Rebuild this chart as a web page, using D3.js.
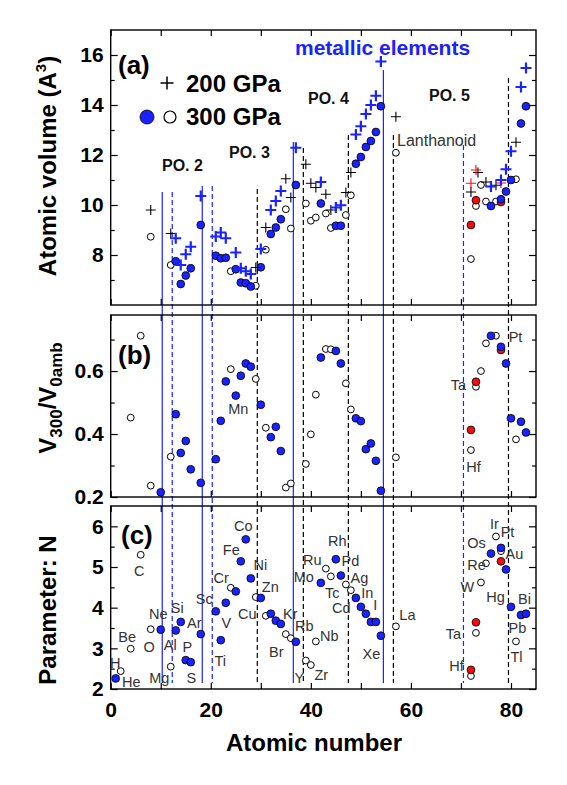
<!DOCTYPE html>
<html>
<head>
<meta charset="utf-8">
<script src="https://cdn.jsdelivr.net/npm/d3@7"></script>
<style>
  body { margin: 0; background: #fff; }
  text { font-family: Arial, "Liberation Sans", sans-serif; }
</style>
</head>
<body>
<svg id="chart" width="567" height="785"></svg>
<script>
// values: [atomic number, value]

// (a) atomic volume
const volPlusBlack = [[8,9.8],[12,8.86],[29,7.5],[31,9.1],[35,11.05],[36,10.3],[39,11.63],[40,10.87],
  [41,10.7],[43,10.43],[44,9.8],[47,10.5],[48,11.3],[57,13.53],[72,10.52],[73.4,11.3],[75,10.92],[77,10.79],[81,12.51]];
const volPlusRed = [[72,10.87],[73,11.4],[78,10.88]];
const volPlusBlue = [[13,8.67],[14,7.6],[15,8.03],[16,8.33],[18,10.36],[21,8.74],[22,8.9],[23,8.67],
  [25,8.1],[26,7.47],[27,7.35],[28,7.24],[30,8.24],[32,9.8],[33,10.16],[34,10.56],[37,12.29],[42,10.92],
  [45,9.9],[46,9.99],[49,12.82],[50,13.15],[51,13.64],[52,14.0],[53,14.37],[54,15.74],[76,10.74],
  [78,11.0],[79,11.43],[80,12.15],[82,14.72],[83,15.48]];
const volOpen = [[8,8.73],[12,7.6],[24,7.35],[29,6.77],[31,8.21],[35,9.83],[36,9.06],[39,10.06],[40,9.37],
  [41,9.5],[43,9.66],[44,9.08],[47,9.6],[48,10.39],[57,12.09],[72,7.84],[73,9.96],[74,10.8],[75,10.14],
  [77,10.14],[81,11.03]];
const volRed = [[72,9.2],[73,10.19],[78,10.12]];
const volFilled = [[13,7.75],[14,6.84],[15,7.18],[16,7.47],[18,9.2],[21,7.97],[22,7.87],[23,7.89],
  [25,7.43],[26,6.9],[27,6.87],[28,6.74],[30,7.51],[32,8.84],[33,9.1],[34,9.43],[37,10.8],[42,10.06],
  [45,9.17],[46,9.17],[49,11.65],[50,11.92],[51,12.32],[52,12.56],[53,12.92],[54,13.95],[76,9.96],
  [78,10.23],[79,10.54],[80,11.0],[82,13.26],[83,13.95]];

// (b) V300 / V0amb
const ratioOpen = [[4,0.452],[6,0.712],[8,0.236],[12,0.328],[24,0.606],[29,0.575],[31,0.42],[35,0.23],
  [36,0.243],[39,0.305],[40,0.399],[41,0.525],[43,0.67],[44,0.669],[47,0.561],[48,0.478],[57,0.326],
  [72,0.349],[73,0.55],[74,0.6],[75,0.688],[77,0.712],[81,0.383]];
const ratioRed = [[72,0.413],[73,0.566],[78,0.667]];
const ratioFilled = [[10,0.215],[13,0.463],[14,0.34],[15,0.378],[16,0.288],[18,0.245],[21,0.32],[22,0.442],
  [23,0.567],[25,0.522],[26,0.585],[27,0.624],[28,0.614],[30,0.493],[32,0.39],[33,0.423],[34,0.346],
  [42,0.643],[45,0.664],[46,0.624],[49,0.45],[50,0.441],[51,0.352],[52,0.37],[53,0.315],[54,0.22],
  [76,0.712],[78,0.677],[79,0.624],[80,0.45],[82,0.439],[83,0.405]];

// (c) parameter N
const nOpen = [[2,2.44],[4,2.99],[6,5.3],[8,3.47],[12,2.55],[24,4.49],[29,4.26],[31,3.8],[35,3.35],
  [36,3.25],[39,2.7],[40,2.59],[41,3.17],[43,4.96],[44,4.77],[47,4.57],[48,4.43],[57,3.54],[72,2.32],
  [73,3.38],[74,4.62],[75,5.09],[77,5.75],[78,5.39],[81,3.17]];
const nRed = [[72,2.47],[73,3.64],[78,5.14]];
const nFilled = [[1,2.26],[10,3.46],[13,3.44],[14,3.65],[15,2.71],[16,2.66],[18,3.35],[21,3.91],[22,3.2],
  [23,4.12],[25,4.4],[26,5.14],[27,5.68],[28,4.72],[30,4.24],[32,3.85],[33,3.68],[34,3.6],[37,3.16],
  [42,4.61],[45,5.19],[46,4.79],[49,4.24],[50,4.02],[51,3.85],[52,3.65],[53,3.65],[54,3.31],[76,5.33],
  [78,5.47],[79,4.94],[80,4.02],[82,3.82],[83,3.85]];

// element names written next to the points: [name, Z, value]
const ratioNames = [["Mn",25.5,0.479],["Pt",80.9,0.708],["Ta",69.5,0.556],["Hf",72.5,0.295]];
const nNames = [["H",0.9,2.64],["He",4.1,2.17],["Be",3.3,3.28],["C",5.7,4.89],["O",7.7,3.04],["Ne",9.5,3.85],
  ["Mg",9.7,2.27],["Si",13.3,4.0],["Al",11.9,3.09],["P",15.3,3.04],["S",16.1,2.27],["Ar",16.7,3.63],
  ["Sc",18.7,4.22],["V",23.1,3.63],["Ti",21.9,2.69],["Cr",22.1,4.74],["Fe",24.1,5.43],["Co",26.5,6.02],
  ["Cu",27.3,3.85],["Ni",29.9,5.06],["Zn",31.9,4.52],["Kr",35.9,3.85],["Rb",38.7,3.56],["Br",33.1,2.91],
  ["Y",37.7,2.27],["Zr",42.1,2.35],["Nb",43.7,3.31],["Mo",38.6,4.76],["Ru",40.3,5.18],["Rh",45.3,5.65],
  ["Pd",47.9,5.14],["Tc",44.3,4.37],["Ag",49.7,4.74],["Cd",46.1,4.0],["In",51.3,4.37],["I",52.9,4.07],
  ["Xe",52.1,2.86],["La",59.3,3.83],["Ir",76.7,6.05],["Pt",79.3,5.85],["Os",73.1,5.6],["Au",80.7,5.33],
  ["Re",73.1,5.04],["W",71.3,4.52],["Hg",76.9,4.27],["Bi",82.7,4.22],["Pb",81.3,3.51],["Ta",68.5,3.36],
  ["Tl",81.1,2.79],["Hf",69.1,2.57]];

// vertical separators: Z position and top end (in atomic volume units)
const blueSolidZ = [10.3, 18.3, 36.5, 54.5];
const blueSolidTop = [10.52, 10.76, 12.52, 15.4];
const blueDashZ = [12.3, 20.3, 70.5];
const blueDashTop = [10.52, 10.76, 12.4];
const blackDashZ = [29.3, 38.5, 47.5, 56.5, 79.5];
const blackDashTop = [10.64, 12.28, 12.8, 12.8, 15.08];

const xTicks = [0, 10, 20, 30, 40, 50, 60, 70, 80];
const xLabels = [0, 20, 40, 60, 80];

const BLUE = "#1a22ff";
const RED = "#f01010";

const svg = d3.select("#chart");
svg.append("rect").attr("width", 567).attr("height", 785).attr("fill", "#fff");

const x = d3.scaleLinear().domain([0, 85]).range([110.7, 536]);
const yA = d3.scaleLinear().domain([6, 17]).range([305, 30]);
const yB = d3.scaleLinear().domain([0.2, 0.778]).range([497, 315]);
const yC = d3.scaleLinear().domain([2, 6.5]).range([689, 506]);

function frame(y, major, minor, fmt, showX)
{
  const g = svg.append("g");
  const [b, t] = y.range();
  g.append("g").attr("transform", "translate(110.7,0)")
    .call(d3.axisLeft(y).tickValues(major).tickSize(-7).tickPadding(7).tickFormat(fmt));
  g.append("g").attr("transform", "translate(110.7,0)")
    .call(d3.axisLeft(y).tickValues(minor).tickSize(-4).tickFormat(""));
  g.append("g").attr("transform", "translate(536,0)")
    .call(d3.axisRight(y).tickValues(major).tickSize(-7).tickFormat(""));
  g.append("g").attr("transform", "translate(536,0)")
    .call(d3.axisRight(y).tickValues(minor).tickSize(-4).tickFormat(""));
  g.append("g").attr("transform", `translate(0,${t})`)
    .call(d3.axisTop(x).tickValues(xTicks).tickSize(-6).tickFormat(""));
  let bx = g.append("g").attr("transform", `translate(0,${b})`)
    .call(d3.axisBottom(x).tickValues(xTicks).tickSize(-6)
      .tickFormat(d => showX && xLabels.includes(d) ? d : ""));
  bx.selectAll("text").attr("dy", "1.2em");
  g.selectAll(".domain").remove();
  g.selectAll(".tick line").attr("stroke", "#000").attr("stroke-width", 1.2);
  g.selectAll(".tick text").attr("font-size", 21).attr("font-weight", "bold").attr("fill", "#000")
    .attr("font-family", "Arial, 'Liberation Sans', sans-serif");
  g.append("rect").attr("x", 110.7).attr("y", t).attr("width", 536 - 110.7).attr("height", b - t)
    .attr("fill", "none").attr("stroke", "#000").attr("stroke-width", 1.4);
}

// separators go through all three panels
const lineBottom = yC(2.15);
function vlines(zs, tops, color, dash)
{
  svg.append("g").selectAll("line").data(zs).join("line")
    .attr("x1", d => x(d)).attr("x2", d => x(d))
    .attr("y1", (d, i) => yA(tops[i])).attr("y2", lineBottom)
    .attr("stroke", color).attr("stroke-width", 1.2)
    .attr("stroke-dasharray", dash ? "5,3" : null);
}
vlines(blueSolidZ, blueSolidTop, BLUE, false);
vlines(blueDashZ, blueDashTop, BLUE, true);
vlines(blackDashZ, blackDashTop, "#000", true);

frame(yA, [8, 10, 12, 14, 16], [7, 9, 11, 13, 15], d => d, false);
frame(yB, [0.2, 0.4, 0.6], [0.3, 0.5, 0.7], d3.format(".1f"), false);
frame(yC, [2, 3, 4, 5, 6], [2.5, 3.5, 4.5, 5.5], d => d, true);

function dots(data, y, fill, r)
{
  svg.append("g").selectAll("circle").data(data).join("circle")
    .attr("cx", d => x(d[0])).attr("cy", d => y(d[1])).attr("r", r)
    .attr("fill", fill).attr("stroke", "#000").attr("stroke-width", fill === "#fff" ? 1 : 0.8);
}
function pluses(data, y, color, h, w)
{
  svg.append("g").selectAll("path").data(data).join("path")
    .attr("d", d => `M${x(d[0]) - h},${y(d[1])}h${2 * h}M${x(d[0])},${y(d[1]) - h}v${2 * h}`)
    .attr("stroke", color).attr("stroke-width", w).attr("fill", "none");
}

// panel (a)
dots(volOpen, yA, "#fff", 3.4);
dots(volRed, yA, RED, 3.9);
dots(volFilled, yA, BLUE, 3.9);
pluses(volPlusBlack, yA, "#000", 5, 1.1);
pluses(volPlusRed, yA, RED, 5, 1.1);
pluses(volPlusBlue, yA, BLUE, 5.5, 2.2);

// panel (b)
dots(ratioOpen, yB, "#fff", 3.4);
dots(ratioRed, yB, RED, 3.9);
dots(ratioFilled, yB, BLUE, 3.9);

// panel (c)
dots(nOpen, yC, "#fff", 3.4);
dots(nRed, yC, RED, 3.9);
dots(nFilled, yC, BLUE, 3.9);

function names(data, y)
{
  svg.append("g").selectAll("text").data(data).join("text")
    .attr("x", d => x(d[1])).attr("y", d => y(d[2]))
    .attr("text-anchor", "middle").attr("dominant-baseline", "central")
    .attr("font-size", 14.5).attr("fill", "#333").text(d => d[0]);
}
names(ratioNames, yB);
names(nNames, yC);

// panel letters and annotations
function label(t, px, py, size, weight, fill)
{
  return svg.append("text").attr("x", px).attr("y", py).attr("font-size", size)
    .attr("font-weight", weight).attr("fill", fill || "#000").text(t);
}
label("(a)", 118, 74, 26, "bold");
label("(b)", 118, 364, 26, "bold");
label("(c)", 121, 544, 26, "bold");
label("PO. 2", 162, 171, 16, "bold", "#111");
label("PO. 3", 229, 158, 16, "bold", "#111");
label("PO. 4", 308, 104, 16, "bold", "#111");
label("PO. 5", 429, 101, 16, "bold", "#111");
label("metallic elements", 295, 55, 21, "bold", BLUE);
label("Lanthanoid", 397, 146, 16, "normal", "#333");

// legend
svg.append("path").attr("d", "M160.5,83h13M167,76.5v13").attr("stroke", "#000").attr("stroke-width", 1.5);
label("200 GPa", 186, 92, 24, "bold");
svg.append("circle").attr("cx", 147).attr("cy", 117).attr("r", 7).attr("fill", BLUE)
  .attr("stroke", "#000").attr("stroke-width", 0.8);
svg.append("circle").attr("cx", 170).attr("cy", 117).attr("r", 6).attr("fill", "#fff")
  .attr("stroke", "#000").attr("stroke-width", 1.2);
label("300 GPa", 186, 125, 24, "bold");

// axis titles
label("Atomic number", 314, 751, 24, "bold").attr("text-anchor", "middle");

function ytitle(py)
{
  return svg.append("text").attr("transform", `translate(56,${py}) rotate(-90)`)
    .attr("text-anchor", "middle").attr("font-size", 24).attr("font-weight", "bold");
}
let t1 = ytitle(166);
t1.append("tspan").text("Atomic volume (A");
t1.append("tspan").attr("dy", -10).attr("font-size", 15).text("3");
t1.append("tspan").attr("dy", 10).text(")");

let t2 = ytitle(398);
t2.append("tspan").text("V");
t2.append("tspan").attr("dy", 6).attr("font-size", 17).text("300");
t2.append("tspan").attr("dy", -6).text("/V");
t2.append("tspan").attr("dy", 6).attr("font-size", 17).text("0amb");

ytitle(610).text("Parameter: N");
</script>
</body>
</html>
